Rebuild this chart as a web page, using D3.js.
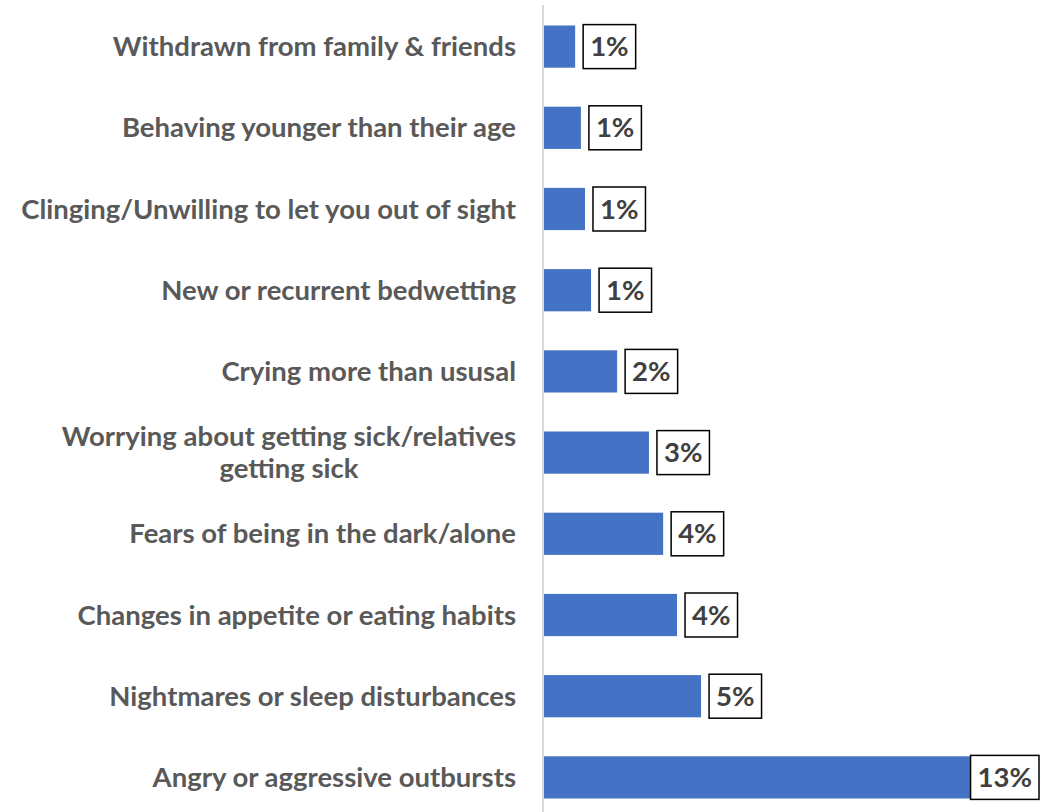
<!DOCTYPE html>
<html>
<head>
<meta charset="utf-8">
<script src="https://cdn.jsdelivr.net/npm/d3@7"></script>
<style>
  html, body { margin: 0; padding: 0; background: #fff; }
  svg { display: block; }
</style>
</head>
<body>
<svg id="chart" width="1063" height="812"></svg>
<script>
// Share of children showing each behaviour (fractions)
const categories = [
  "Withdrawn from family & friends",
  "Behaving younger than their age",
  "Clinging/Unwilling to let you out of sight",
  "New or recurrent bedwetting",
  "Crying more than ususal",
  "Worrying about getting sick/relatives getting sick",
  "Fears of being in the dark/alone",
  "Changes in appetite or eating habits",
  "Nightmares or sleep disturbances",
  "Angry or aggressive outbursts"
];
const values = [0.0095, 0.0112, 0.0124, 0.0142, 0.0219, 0.0313, 0.0355, 0.0396, 0.0467, 0.130];
const xMax = 0.14;

const svg = d3.select("#chart");
const W = 1063, H = 812;
const axisX = 543;
const font = "Lato, 'Open Sans', sans-serif";
const fontSize = 27.5;

const x = d3.scaleLinear().domain([0, xMax]).range([axisX, axisX + 440 * xMax / 0.13]);
const y = d3.scaleBand().domain(categories).range([6, 818]).paddingInner(0.48).paddingOuter(0.24);

const fmt = d3.format(".0%");

// vertical category axis line
svg.append("line")
  .attr("x1", axisX).attr("x2", axisX)
  .attr("y1", 5).attr("y2", H)
  .attr("stroke", "#d9d9d9").attr("stroke-width", 2);

// bars
svg.append("g").selectAll("rect")
  .data(categories)
  .join("rect")
  .attr("x", x(0) + 1)
  .attr("y", d => y(d))
  .attr("width", (d, i) => x(values[i]) - x(0) - 1)
  .attr("height", y.bandwidth())
  .attr("fill", "#4472c4");

// category labels, wrapped to a max width
const maxLabelW = 500;
const lineH = 32;
const labels = svg.append("g")
  .attr("font-family", font)
  .attr("font-weight", 700)
  .attr("font-size", fontSize)
  .attr("fill", "#595959")
  .attr("text-anchor", "end");

categories.forEach(c => {
  const cy = y(c) + y.bandwidth() / 2;
  const t = labels.append("text").attr("x", 516);
  const words = c.split(" ");
  let lines = [], cur = [];
  const probe = t.append("tspan");
  words.forEach(w => {
    const trial = cur.concat(w).join(" ");
    probe.text(trial);
    if (probe.node().getComputedTextLength() > maxLabelW && cur.length) {
      lines.push(cur.join(" "));
      cur = [w];
    } else cur.push(w);
  });
  lines.push(cur.join(" "));
  probe.remove();
  const y0 = cy - (lines.length - 1) * lineH / 2;
  t.attr("text-anchor", lines.length > 1 ? "middle" : "end");
  const ax = lines.length > 1 ? 289 : 516;
  lines.forEach((ln, k) => {
    t.append("tspan").attr("x", ax).attr("y", y0 + k * lineH)
      .attr("dy", "0.35em").text(ln);
  });
});

// value labels in outlined boxes
const boxRight = 1039;
const vg = svg.append("g");
categories.forEach((c, i) => {
  const cy = y(c) + y.bandwidth() / 2;
  const g = vg.append("g");
  const t = g.append("text")
    .attr("font-family", font)
    .attr("font-weight", 700)
    .attr("font-size", fontSize)
    .attr("fill", "#404040")
    .attr("text-anchor", "middle")
    .attr("dy", "0.35em")
    .text(fmt(values[i]));
  const tw = t.node().getComputedTextLength();
  const bw = tw + 14, bh = 44;
  let bx = x(values[i]) + 8;
  if (bx + bw > boxRight) bx = boxRight - bw;
  g.insert("rect", "text")
    .attr("x", bx).attr("y", cy - bh / 2)
    .attr("width", bw).attr("height", bh)
    .attr("fill", "#fff").attr("stroke", "#000").attr("stroke-width", 1.5);
  t.attr("x", bx + bw / 2).attr("y", cy);
});
</script>
</body>
</html>
